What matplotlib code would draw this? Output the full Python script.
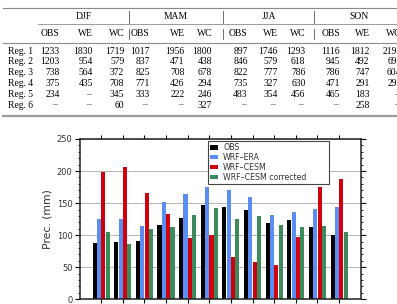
import numpy as np
import matplotlib
matplotlib.use('Agg')
import matplotlib.pyplot as plt
from matplotlib.lines import Line2D

# ---- table data ----
seasons = ['DJF', 'MAM', 'JJA', 'SON']
subcols = ['OBS', 'WE', 'WC']
regions = ['Reg. 1', 'Reg. 2', 'Reg. 3', 'Reg. 4', 'Reg. 5', 'Reg. 6']
djf = [['1233', '1830', '1719'], ['1203', '954', '579'], ['738', '564', '372'],
       ['375', '435', '708'], ['234', '–', '345'], ['–', '–', '60']]
mam = [['1017', '1956', '1800'], ['837', '471', '438'], ['825', '708', '678'],
       ['771', '426', '294'], ['333', '222', '246'], ['–', '–', '327']]
jja = [['897', '1746', '1293'], ['846', '579', '618'], ['822', '777', '786'],
       ['735', '327', '630'], ['483', '354', '456'], ['–', '–', '–']]
son = [['1116', '1812', '2193'], ['945', '492', '693'], ['786', '747', '604'],
       ['471', '291', '292'], ['465', '183', '–'], ['–', '258', '–']]

# ---- bar chart data (monthly precipitation, mm) ----
months = np.arange(1, 13)
obs = [88, 89, 91, 116, 127, 147.5, 143.5, 140, 119.5, 123.5, 113.5, 100.5]
wrf_era = [126, 125, 114, 152, 164.5, 174.5, 170.5, 159, 131.5, 136, 141, 143.5]
wrf_cesm = [198, 207, 166.5, 133.5, 95, 100.5, 66, 57.5, 53.5, 97.5, 174.5, 187.5]
wrf_cesm_corr = [104.5, 87, 109, 112, 131.5, 142.5, 125.5, 129.5, 116.5, 113, 114, 105.5]
series = [obs, wrf_era, wrf_cesm, wrf_cesm_corr]
names = ['OBS', 'WRF–ERA', 'WRF–CESM', 'WRF–CESM corrected']
colors = ['black', '#5b8ef2', '#d0000f', '#3d8b5c']

W, H = 397, 304
fig = plt.figure(figsize=(W / 100, H / 100), dpi=100)

# table drawn on a full-figure axes in pixel coordinates
tb = fig.add_axes([0, 0, 1, 1])
tb.set_xlim(0, W)
tb.set_ylim(H, 0)
tb.axis('off')

serif = 'Liberation Serif'
fs = 6.9
gray = '#8a8a8a'
tb.add_line(Line2D([3, W], [7.7, 7.7], color=gray, lw=0.8))
tb.add_line(Line2D([38, W], [24.3, 24.3], color=gray, lw=0.6))
tb.add_line(Line2D([3, W], [42.5, 42.5], color=gray, lw=0.8))
tb.add_line(Line2D([3, W], [116.3, 116.3], color='#9a9a9a', lw=1.6))

seps = [128.7, 223, 314.3]
for xs in seps:
    tb.add_line(Line2D([xs, xs], [11, 22.5], color='#555', lw=0.6))
    tb.add_line(Line2D([xs, xs], [29, 38.5], color='#555', lw=0.6))

group_cx = [83.5, 176, 269, 359]
col_right = [[59.5, 93, 124.3], [149.5, 184.5, 212], [247.7, 277.5, 305.5], [340, 369.5, 401.5]]
row_y = [51.2, 62, 72.8, 83.5, 94.3, 105]

for s, cx in zip(seasons, group_cx):
    tb.text(cx, 16.5, s, ha='center', va='center', family=serif, fontsize=fs)

for g, tab in enumerate([djf, mam, jja, son]):
    for c in range(3):
        xr = col_right[g][c]
        tb.text(xr, 34, subcols[c], ha='right', va='center', family=serif, fontsize=fs)
        for r in range(len(regions)):
            v = tab[r][c]
            if v == '–':
                tb.text(xr - 4.5, row_y[r], v, ha='center', va='center', family=serif,
                        fontsize=fs, color='#555')
            else:
                tb.text(xr, row_y[r], v, ha='right', va='center', family=serif, fontsize=fs)

for r, name in enumerate(regions):
    tb.text(8, row_y[r], name, ha='left', va='center', family=serif, fontsize=fs)

# ---- bar chart ----
ax = fig.add_axes([79.5 / W, 1 - 299.3 / H, 281.2 / W, 160.3 / H])
width = 0.19
offsets = [-0.3, -0.1, 0.1, 0.3]
for vals, off, col, lab in zip(series, offsets, colors, names):
    ax.bar(months + off, vals, width, color=col, label=lab, zorder=2)

ax.set_xlim(0, 13)
ax.set_ylim(0, 250)
ax.set_xticks(months)
ax.set_xticklabels([])
ax.set_yticks(np.arange(0, 251, 50))
ax.set_yticks(np.arange(0, 251, 10), minor=True)
ax.yaxis.grid(True, which='major', color='#b5b5b5', lw=0.7, zorder=0)
ax.set_axisbelow(True)
ax.tick_params(axis='x', which='both', top=True, bottom=True, direction='out',
               length=2.8, width=0.8, labelbottom=False)
ax.tick_params(axis='y', which='major', left=True, right=True, direction='out',
               length=3.5, width=0.8, labelsize=6, labelcolor='#333', pad=1.5)
ax.tick_params(axis='y', which='minor', left=True, right=True, direction='out',
               length=1.6, width=0.6)
for sp in ax.spines.values():
    sp.set_linewidth(1.1)
    sp.set_color('#222')
ax.set_ylabel('Prec. (mm)', fontsize=7.8, color='#333', labelpad=3)

leg = ax.legend(loc='upper left', bbox_to_anchor=(0.457, 0.72, 0.429, 0.268),
                mode='expand', fontsize=5.7, frameon=True, fancybox=False,
                edgecolor='#444', framealpha=1, borderaxespad=0, borderpad=0.3,
                labelspacing=0.1, handlelength=0.9, handleheight=0.45,
                handletextpad=0.7)
leg.get_frame().set_linewidth(0.8)
for t in leg.get_texts():
    t.set_color('#333')

fig.savefig('out.png', dpi=100)
